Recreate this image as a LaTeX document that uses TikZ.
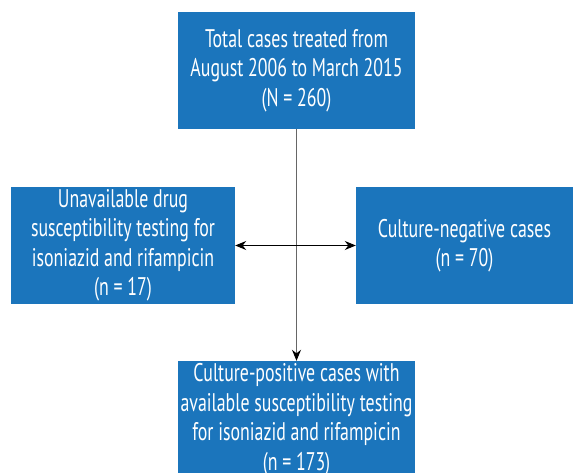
\documentclass[tikz,border=0pt]{standalone}
\usepackage{fontspec}
\setmainfont{PT Sans}[FakeStretch=0.7]
\usetikzlibrary{arrows.meta}
\definecolor{boxblue}{RGB}{27,117,188}
\begin{document}
\begin{tikzpicture}[x=1pt,y=1pt,
        flowbox/.style={fill=boxblue,text=white,align=center,inner sep=0pt,
            minimum height=117pt,font=\fontsize{25.5}{29.5}\selectfont},
        flowarrow/.style={-{Stealth[length=11pt,width=9pt,color=black]},line width=0.9pt}]
        \useasboundingbox (0,0) rectangle (574,473);
        \node (total) at (296.5,402.5)[flowbox,minimum width=237pt]
            {Total cases treated from\\August 2006 to March 2015\\(N = 260)};
        \node (unavail) at (123,227.5)[flowbox,minimum width=224pt]
            {Unavailable drug\\susceptibility testing for\\isoniazid and rifampicin\\(n = 17)};
        \node (negative) at (464.5,227.5)[flowbox,minimum width=217pt]
            {Culture-negative cases\\(n = 70)};
        \node (positive) at (296.5,53.5)[flowbox,minimum width=237pt]
            {Culture-positive cases with\\available susceptibility testing\\for isoniazid and rifampicin\\(n = 173)};
        \draw [flowarrow,black!60] (total) -- (positive);
        \draw [flowarrow,{Stealth[length=11pt,width=9pt]}-{Stealth[length=11pt,width=9pt]}] (unavail) -- (negative);
\end{tikzpicture}
\end{document}
